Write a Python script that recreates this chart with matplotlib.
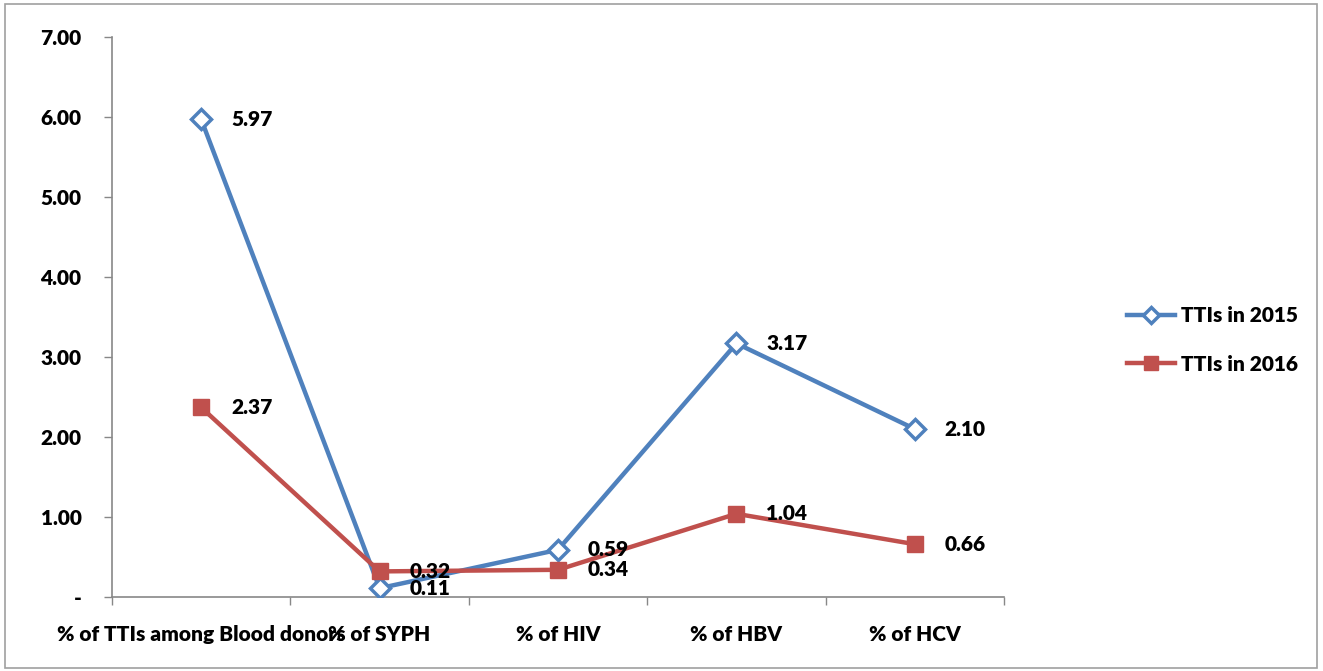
import numpy as np
import matplotlib.pyplot as plt
from matplotlib.patches import Rectangle

# data
categories = ['% of TTIs among Blood donors', '% of SYPH', '% of HIV', '% of HBV', '% of HCV']
tti_2015 = [5.97, 0.11, 0.59, 3.17, 2.10]
tti_2016 = [2.37, 0.32, 0.34, 1.04, 0.66]
y_ticks = [0, 1, 2, 3, 4, 5, 6, 7]
y_labels = ['-', '1.00', '2.00', '3.00', '4.00', '5.00', '6.00', '7.00']

plt.rcParams['font.family'] = ['Lato', 'DejaVu Sans']
plt.rcParams['font.weight'] = 'bold'

fig = plt.figure(figsize=(13.23, 6.71), dpi=100)
ax = fig.add_axes([112/1323, 1-597/671, (1004-112)/1323, (597-37)/671])

# outer frame
fig.patches.append(Rectangle((5/1323, 3/671), 1312/1323, 664/671, transform=fig.transFigure,
                             fill=False, edgecolor='#a0a0a0', linewidth=1.2))

x = np.arange(len(categories))
blue = '#4F81BD'
red = '#C0504D'
ax.plot(x, tti_2015, color=blue, linewidth=3.2, marker='D', markersize=10,
        markerfacecolor='white', markeredgecolor=blue, markeredgewidth=2.5,
        label='TTIs in 2015', zorder=3)
ax.plot(x, tti_2016, color=red, linewidth=3.2, marker='s', markersize=12,
        markerfacecolor=red, markeredgecolor=red, label='TTIs in 2016', zorder=3)

# data labels, to the right of each point
for xi, v in zip(x, tti_2015):
    ax.annotate('%.2f' % v, (xi, v), xytext=(30, 0), textcoords='offset pixels',
                ha='left', va='center', fontsize=15, fontweight='heavy', zorder=4)
for xi, v in zip(x, tti_2016):
    ax.annotate('%.2f' % v, (xi, v), xytext=(30, 0), textcoords='offset pixels',
                ha='left', va='center', fontsize=15, fontweight='heavy', zorder=4)

ax.set_xlim(-0.5, len(categories) - 0.5)
ax.set_ylim(0, 7)
ax.set_yticks(y_ticks)
ax.set_yticklabels(y_labels)
ax.set_xticks(x)
ax.set_xticklabels(categories)
ax.set_xticks(np.arange(-0.5, len(categories)), minor=True)
ax.tick_params(axis='x', which='major', length=0, pad=20, labelsize=15)
ax.tick_params(axis='x', which='minor', length=6, color='#888888', width=1)
ax.tick_params(axis='y', length=6, color='#888888', width=1, pad=16, labelsize=15)
for lbl in ax.get_xticklabels() + ax.get_yticklabels():
    lbl.set_fontweight('heavy')

for s in ['top', 'right']:
    ax.spines[s].set_visible(False)
for s in ['left', 'bottom']:
    ax.spines[s].set_color('#888888')
    ax.spines[s].set_linewidth(1.2)

leg = fig.legend(loc='center left', bbox_to_anchor=(1108/1323, 1-340/671), frameon=False,
                 prop={'size': 15, 'weight': 'heavy'}, handlelength=2.3, labelspacing=1.4,
                 handletextpad=0.3, markerscale=0.8)

fig.savefig('out.png', dpi=100)
